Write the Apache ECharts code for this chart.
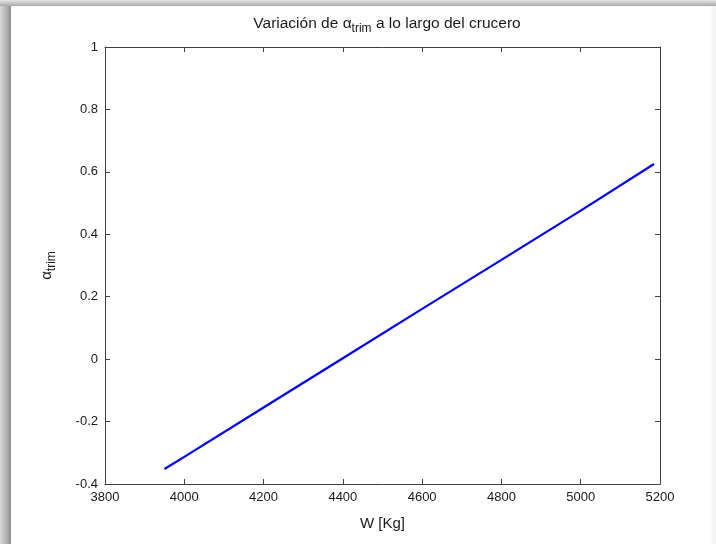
<!DOCTYPE html>
<html>
<head>
<meta charset="utf-8">
<script src="https://cdn.jsdelivr.net/npm/echarts@6/dist/echarts.min.js"></script>
<style>
  html, body { margin: 0; padding: 0; width: 716px; height: 544px; overflow: hidden; }
  body { background: linear-gradient(to right, #d8d8d8 0px, #a8a8a8 8px, #8a8a8a 11px, #ffffff 11px, #ffffff 708px, #f2f2f2 716px); }
  #frameTop { position: absolute; left: 0; top: 0; width: 716px; height: 6px; background: linear-gradient(to bottom, #e6e6e6, #a8a8a8); }
  #chart { position: absolute; left: 0; top: 0; width: 716px; height: 544px; }
</style>
</head>
<body>
<div id="frameTop"></div>
<div id="chart"></div>
<script>
// Data
var weights = [3950, 4000, 4200, 4400, 4600, 4800, 5000, 5185];
var alphaTrim = [-0.352, -0.313, -0.155, 0.003, 0.161, 0.318, 0.476, 0.625];
var xTicks = [3800, 4000, 4200, 4400, 4600, 4800, 5000, 5200];
var yTicks = [-0.4, -0.2, 0, 0.2, 0.4, 0.6, 0.8, 1];

var FONT = '"Liberation Sans Narrow", "Liberation Sans", Arial, sans-serif';
var chart = echarts.init(document.getElementById('chart'), null, { renderer: 'canvas' });

var pts = weights.map(function (w, i) { return [w, alphaTrim[i]]; });

function fmtY(v) {
  var r = Math.round(v * 10) / 10;
  return String(r);
}
function fmtX(v) { return String(Math.round(v)); }

var axisLineStyle = { color: '#404040', width: 1 };
var baseX = {
  type: 'value', min: xTicks[0], max: xTicks[xTicks.length - 1], interval: 200,
  axisLine: { show: true, onZero: false, lineStyle: axisLineStyle },
  axisTick: { show: true, inside: true, length: 5, lineStyle: axisLineStyle },
  splitLine: { show: false }
};
var baseY = {
  type: 'value', min: yTicks[0], max: yTicks[yTicks.length - 1], interval: 0.2,
  axisLine: { show: true, onZero: false, lineStyle: axisLineStyle },
  axisTick: { show: true, inside: true, length: 5, lineStyle: axisLineStyle },
  splitLine: { show: false }
};

var option = {
  backgroundColor: 'transparent',
  animation: false,
  title: {
    text: '{n|Variación de }{a|α}{s|trim}{n| a lo largo del crucero}',
    left: 382, top: 8, textAlign: 'center',
    textStyle: {
      fontWeight: 'normal',
      rich: {
        n: { fontFamily: FONT, fontSize: 15.5, fontWeight: 'normal', color: '#1a1a1a', lineHeight: 22 },
        a: { fontFamily: FONT, fontSize: 15.5, fontWeight: 'normal', color: '#1a1a1a', lineHeight: 22 },
        s: { fontFamily: FONT, fontSize: 12, fontWeight: 'normal', color: '#1a1a1a', lineHeight: 22, padding: [10, 0, 0, 0] }
      }
    }
  },
  grid: { left: 105, right: 56, top: 47, bottom: 60, containLabel: false },
  xAxis: [
    Object.assign({}, baseX, {
      position: 'bottom',
      axisLabel: { show: true, fontFamily: FONT, fontSize: 13, color: '#1a1a1a', margin: 7, formatter: fmtX },
      name: 'W [Kg]', nameLocation: 'middle', nameGap: 32,
      nameTextStyle: { fontFamily: FONT, fontSize: 15, color: '#1a1a1a' }
    }),
    Object.assign({}, baseX, { position: 'top', axisLabel: { show: false } })
  ],
  yAxis: [
    Object.assign({}, baseY, {
      position: 'left',
      axisLabel: { show: true, fontFamily: FONT, fontSize: 13, color: '#1a1a1a', margin: 7, formatter: fmtY },
      name: '{a|α}{s|trim}', nameLocation: 'middle', nameGap: 48, nameRotate: 90,
      nameTextStyle: {
        rich: {
          a: { fontFamily: FONT, fontSize: 15, color: '#1a1a1a', lineHeight: 20 },
          s: { fontFamily: FONT, fontSize: 12, color: '#1a1a1a', lineHeight: 20, padding: [10, 0, 0, 0] }
        }
      }
    }),
    Object.assign({}, baseY, { position: 'right', axisLabel: { show: false } })
  ],
  series: [{
    type: 'line',
    data: pts,
    xAxisIndex: 0, yAxisIndex: 0,
    showSymbol: false, symbol: 'none',
    lineStyle: { color: '#0000ff', width: 2.2 },
    silent: true
  }]
};
chart.setOption(option);
</script>
</body>
</html>
